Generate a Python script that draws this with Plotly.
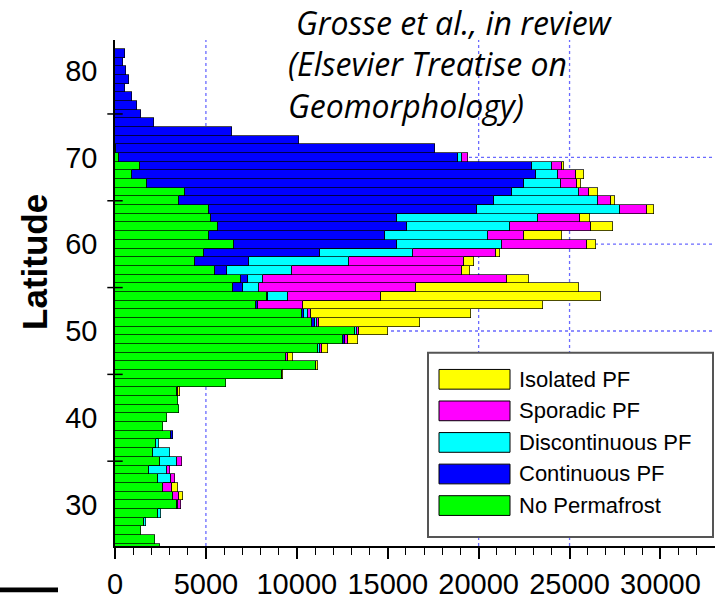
import plotly.graph_objects as go

# ---- data (area per 1-degree latitude bin) ----
latitudes = list(range(25, 83))  # 25 .. 82

no_pf = [2473, 2198, 1410, 1612, 2382, 3425, 3170, 2620, 2345, 1868,
         2473, 2107, 2235, 3060, 2655, 2840, 3517, 3480, 3390, 6100,
         9194, 11030, 9380, 11173, 12547, 13205, 10843, 10292, 7748, 8370,
         6502, 6905, 5495, 4396, 4910, 6557, 5150, 5660, 5260, 5150,
         3535, 3846, 1740, 952, 1374, 220, 80, 0, 0, 0,
         0, 0, 0, 0, 0, 0, 0, 0]
continuous = [0, 0, 0, 0, 0, 0, 0, 0, 0, 0,
              0, 0, 0, 110, 0, 0, 0, 0, 0, 0,
              0, 0, 0, 0, 100, 0, 150, 100, 90, 60,
              513, 405, 642, 2949, 6390, 8958, 9687, 10403, 10274, 14758,
              17308, 18007, 20735, 22182, 21579, 18645, 17540, 10110, 6410, 2160,
              1430, 1190, 920, 550, 750, 600, 460, 550]
discontinuous = [0, 0, 0, 91, 146, 60, 0, 0, 732, 1008,
                 952, 915, 183, 0, 0, 0, 0, 0, 0, 0,
                 0, 0, 0, 100, 0, 100, 120, 250, 0, 1060,
                 898, 823, 3589, 5529, 5090, 5789, 5676, 5681, 7726, 7842,
                 5714, 3660, 2033, 1246, 1060, 220, 0, 0, 0, 0,
                 0, 0, 0, 0, 0, 0, 0, 0]
sporadic = [0, 0, 0, 0, 0, 150, 365, 530, 220, 146,
            238, 0, 0, 0, 0, 0, 0, 0, 60, 0,
            0, 0, 110, 87, 175, 105, 115, 112, 2509, 5165,
            8665, 13446, 9359, 6321, 4545, 4632, 1962, 4446, 2330, 1500,
            737, 550, 895, 990, 567, 330, 0, 0, 0, 0,
            0, 0, 0, 0, 0, 0, 0, 0]
isolated = [0, 0, 0, 0, 0, 0, 183, 330, 0, 0,
            0, 0, 0, 0, 0, 0, 0, 0, 120, 0,
            56, 143, 310, 330, 548, 1630, 5572, 8846, 13188, 12051,
            8919, 1209, 460, 532, 255, 534, 2125, 1213, 510, 370,
            181, 494, 242, 420, 110, 0, 0, 0, 0, 0,
            0, 0, 0, 0, 0, 0, 0, 0]

series_names = ["No Permafrost", "Continuous PF", "Discontinuous PF", "Sporadic PF", "Isolated PF"]
series_values = [no_pf, continuous, discontinuous, sporadic, isolated]
series_colors = ["#00ff00", "#0000ff", "#00ffff", "#ff00ff", "#ffff00"]

x_ticks = [0, 5000, 10000, 15000, 20000, 25000, 30000]
y_ticks = [30, 40, 50, 60, 70, 80]
y_minor_ticks = [35, 45, 55, 65, 75]
grid_x = [5000, 20000, 25000]
grid_y = [50, 60, 70]

# ---- layout geometry ----
W, H = 715, 600
L, R, T, B = 115, 0, 40, 47
PW, PH = W - L - R, H - T - B
XMAX = 33000
YMIN, YMAX = 25.23, 83.52


def px(xp):
    return (xp - L) / PW


def py(yp):
    return (H - B - yp) / PH


fig = go.Figure()

for name, vals, col in zip(series_names, series_values, series_colors):
    fig.add_trace(go.Bar(
        x=[v if v else None for v in vals], y=latitudes, orientation="h",
        name=name, marker=dict(color=col, line=dict(color="#000000", width=0.7)),
        width=1.0, showlegend=False,
    ))

# crossing minor ticks on the y axis
fig.add_trace(go.Scatter(
    x=[0] * len(y_minor_ticks), y=y_minor_ticks, mode="markers",
    marker=dict(symbol="line-ew", size=11, line=dict(color="black", width=1.5)),
    showlegend=False, cliponaxis=False, hoverinfo="skip",
))

shapes = []
for gx in grid_x:
    shapes.append(dict(type="line", xref="x", yref="y", x0=gx, x1=gx, y0=YMIN, y1=YMAX,
                       line=dict(color="#6a6aff", width=1.3, dash="dot"), layer="below"))
for gy in grid_y:
    shapes.append(dict(type="line", xref="x", yref="y", x0=0, x1=XMAX, y0=gy, y1=gy,
                       line=dict(color="#6a6aff", width=1.3, dash="dot"), layer="below"))

# manual legend
shapes.append(dict(type="rect", xref="paper", yref="paper",
                   x0=px(428), x1=px(713), y0=py(544), y1=py(357),
                   line=dict(color="#555555", width=2), fillcolor="white", layer="above"))
annotations = []
legend_order = list(range(len(series_names)))[::-1]
for i, k in enumerate(legend_order):
    cy = 384 + 32 * i
    shapes.append(dict(type="rect", xref="paper", yref="paper",
                       x0=px(439), x1=px(510), y0=py(cy + 10), y1=py(cy - 10),
                       line=dict(color="black", width=1), fillcolor=series_colors[k], layer="above"))
    annotations.append(dict(xref="paper", yref="paper", x=px(517), y=py(cy),
                            xanchor="left", yanchor="middle", showarrow=False,
                            text=series_names[k],
                            font=dict(family="Liberation Sans, Arial", size=22, color="black")))

# bottom-left black bar
shapes.append(dict(type="rect", xref="paper", yref="paper",
                   x0=px(0), x1=px(58), y0=py(600), y1=py(595),
                   line=dict(width=0), fillcolor="black", layer="above"))

# citation text
cite_font = dict(family="Open Sans, Noto Sans", size=32, color="black")
for txt, lx, cy in [("Grosse et al., in review", 294, 22),
                    ("(Elsevier Treatise on", 286, 64),
                    ("Geomorphology)", 286, 106)]:
    annotations.append(dict(xref="paper", yref="paper", x=px(lx), y=py(cy),
                            xanchor="left", yanchor="middle", showarrow=False,
                            text="<i>" + txt + "</i>", font=cite_font))

annotations.append(dict(xref="paper", yref="paper", x=px(35), y=py(265),
                        xanchor="center", yanchor="middle", showarrow=False,
                        text="<b>Latitude</b>", textangle=-90,
                        font=dict(family="Liberation Sans, Arial", size=35, color="black")))

tick_font = dict(family="Liberation Sans Narrow, Arial Narrow, Liberation Sans", size=29, color="black")

fig.update_layout(
    width=W, height=H, autosize=False,
    margin=dict(l=L, r=R, t=T, b=B, pad=0),
    paper_bgcolor="white", plot_bgcolor="white",
    barmode="stack", bargap=0,
    showlegend=False,
    shapes=shapes, annotations=annotations,
    xaxis=dict(range=[0, XMAX], tickvals=x_ticks, ticktext=[str(v) for v in x_ticks],
               ticks="outside", ticklen=11, tickwidth=1.5, tickcolor="black",
               showline=True, linecolor="black", linewidth=1.5,
               showgrid=False, zeroline=False, tickfont=tick_font,
               minor=dict(ticks="outside", ticklen=7, tickwidth=1.2, tickcolor="black",
                          dtick=1000, tick0=0, showgrid=False)),
    yaxis=dict(range=[YMIN, YMAX], tickvals=y_ticks, ticktext=[str(v) for v in y_ticks],
               ticks="", showline=True, linecolor="black", linewidth=1.5,
               showgrid=False, zeroline=False, tickfont=tick_font, ticklabelstandoff=10),
)

fig.write_html("out.html")
